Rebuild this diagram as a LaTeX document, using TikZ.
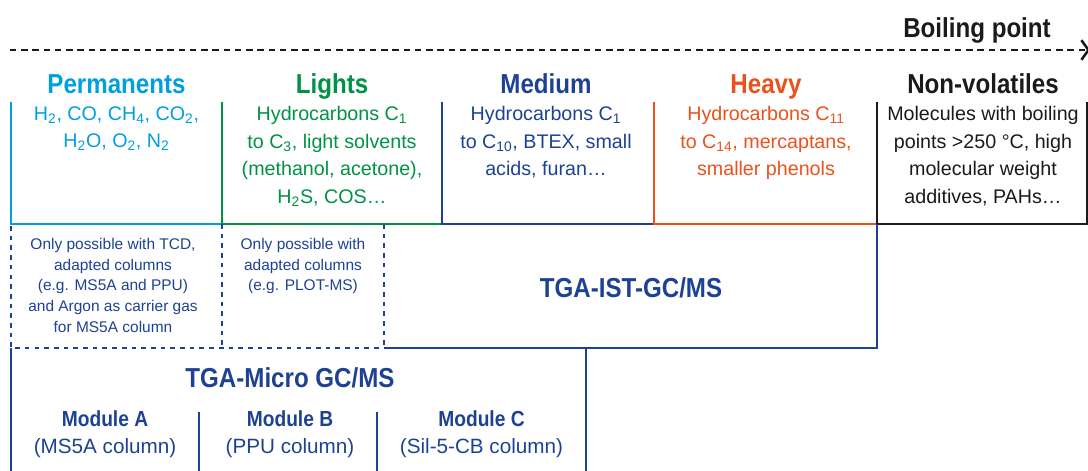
\documentclass[tikz,border=0pt]{standalone}
\usepackage{fontspec}
\setmainfont{Liberation Sans}
\newfontface\headfont[FakeStretch=0.88]{Liberation Sans Bold}
\usetikzlibrary{arrows.meta,positioning}
\usepackage{xcolor}

\definecolor{permcol}{RGB}{0,159,223}
\definecolor{lightcol}{RGB}{0,146,69}
\definecolor{medcol}{RGB}{29,66,148}
\definecolor{heavycol}{RGB}{233,82,28}
\definecolor{nvcol}{RGB}{26,26,26}

\newcommand{\sbs}[1]{\textsubscript{#1}}

\tikzset{
  head/.style={font=\headfont\fontsize{19.5}{22}\selectfont, anchor=base, inner sep=0pt},
  body/.style={font=\fontsize{14}{19.6}\selectfont, align=center, anchor=north, inner sep=0pt},
  note/.style={font=\fontsize{11}{14.7}\selectfont, align=center, anchor=north, inner sep=0pt, text=medcol},
  module/.style={font=\fontsize{14.7}{19.2}\selectfont, align=center, anchor=north, inner sep=0pt, text=medcol},
  rule/.style={line width=1.8pt},
  dotrule/.style={line width=1.8pt, medcol, dash pattern=on 3.3pt off 3.6pt},
}

\begin{document}
\begin{tikzpicture}[x=0.025cm, y=-0.025cm]
  \useasboundingbox (0,0) rectangle (1088,470);

  % boiling point axis
  \coordinate (axisL) at (10,50);
  \coordinate (axisR) at (1090,50);
  \draw[rule, nvcol, dash pattern=on 4.6pt off 3.4pt, -{Straight Barb[length=5pt,width=14pt]}] (axisL) -- (axisR);
  \node[head, text=nvcol] (boil) at (977,37) {Boiling point};

  % column brackets
  \foreach \xa/\xb/\col in {11/222/permcol, 222/442/lightcol, 442/654/medcol, 654/877/heavycol}
    \draw[rule, \col] (\xa,102) -- (\xa,224) -- (\xb,224);
  \draw[rule, nvcol] (877,102) -- (877,224) -- (1087,224) -- (1087,102);

  % column headers
  \node[head, text=permcol] (perm) at (116.5,93) {Permanents};
  \node[head, text=lightcol] (light) at (332,93) {Lights};
  \node[head, text=medcol] (med) at (546,93) {Medium};
  \node[head, text=heavycol] (heavy) at (766,93) {Heavy};
  \node[head, text=nvcol] (nonvol) at (983,93) {Non-volatiles};

  % column contents
  \node[body, text=permcol] (permtxt) at (116.5,106)
    {H\sbs{2}, CO, CH\sbs{4}, CO\sbs{2},\\ H\sbs{2}O, O\sbs{2}, N\sbs{2}};
  \node[body, text=lightcol] (lighttxt) at (332,106)
    {Hydrocarbons C\sbs{1}\\ to C\sbs{3}, light solvents\\ (methanol, acetone),\\ H\sbs{2}S, COS…};
  \node[body, text=medcol] (medtxt) at (546,106)
    {Hydrocarbons C\sbs{1}\\ to C\sbs{10}, BTEX, small\\ acids, furan…};
  \node[body, text=heavycol] (heavytxt) at (766,106)
    {Hydrocarbons C\sbs{11}\\ to C\sbs{14}, mercaptans,\\ smaller phenols};
  \node[body, text=nvcol] (nonvoltxt) at (983,106)
    {Molecules with boiling\\ points >250 °C, high\\ molecular weight\\ additives, PAHs…};

  % restricted ranges
  \draw[dotrule] (11,226) -- (11,348) -- (384,348);
  \draw[dotrule] (222,224) -- (222,348);
  \draw[dotrule] (384,224) -- (384,348);
  \node[note] (permnote) at (113,238)
    {Only possible with TCD,\\ adapted columns\\ (e.g. MS5A and PPU)\\ and Argon as carrier gas\\ for MS5A column};
  \node[note] (lightnote) at (303,238)
    {Only possible with\\ adapted columns\\ (e.g. PLOT-MS)};

  % TGA-IST-GC/MS
  \draw[rule, medcol] (384,348) -- (877,348) -- (877,224);
  \node[head, anchor=center, text=medcol] (ist) at (631,288) {TGA-IST-GC/MS};

  % TGA-Micro GC/MS
  \draw[rule, medcol] (11,348) -- (11,472);
  \draw[rule, medcol] (586,348) -- (586,472);
  \draw[rule, medcol] (199,412) -- (199,472);
  \draw[rule, medcol] (377,412) -- (377,472);
  \node[head, anchor=center, text=medcol] (micro) at (290,378) {TGA-Micro GC/MS};
  \node[module] (modA) at (105,410) {{\headfont\fontsize{15.5}{19.2}\selectfont Module A}\\ (MS5A column)};
  \node[module] (modB) at (290,410) {{\headfont\fontsize{15.5}{19.2}\selectfont Module B}\\ (PPU column)};
  \node[module] (modC) at (481.5,410) {{\headfont\fontsize{15.5}{19.2}\selectfont Module C}\\ (Sil-5-CB column)};
\end{tikzpicture}
\end{document}
